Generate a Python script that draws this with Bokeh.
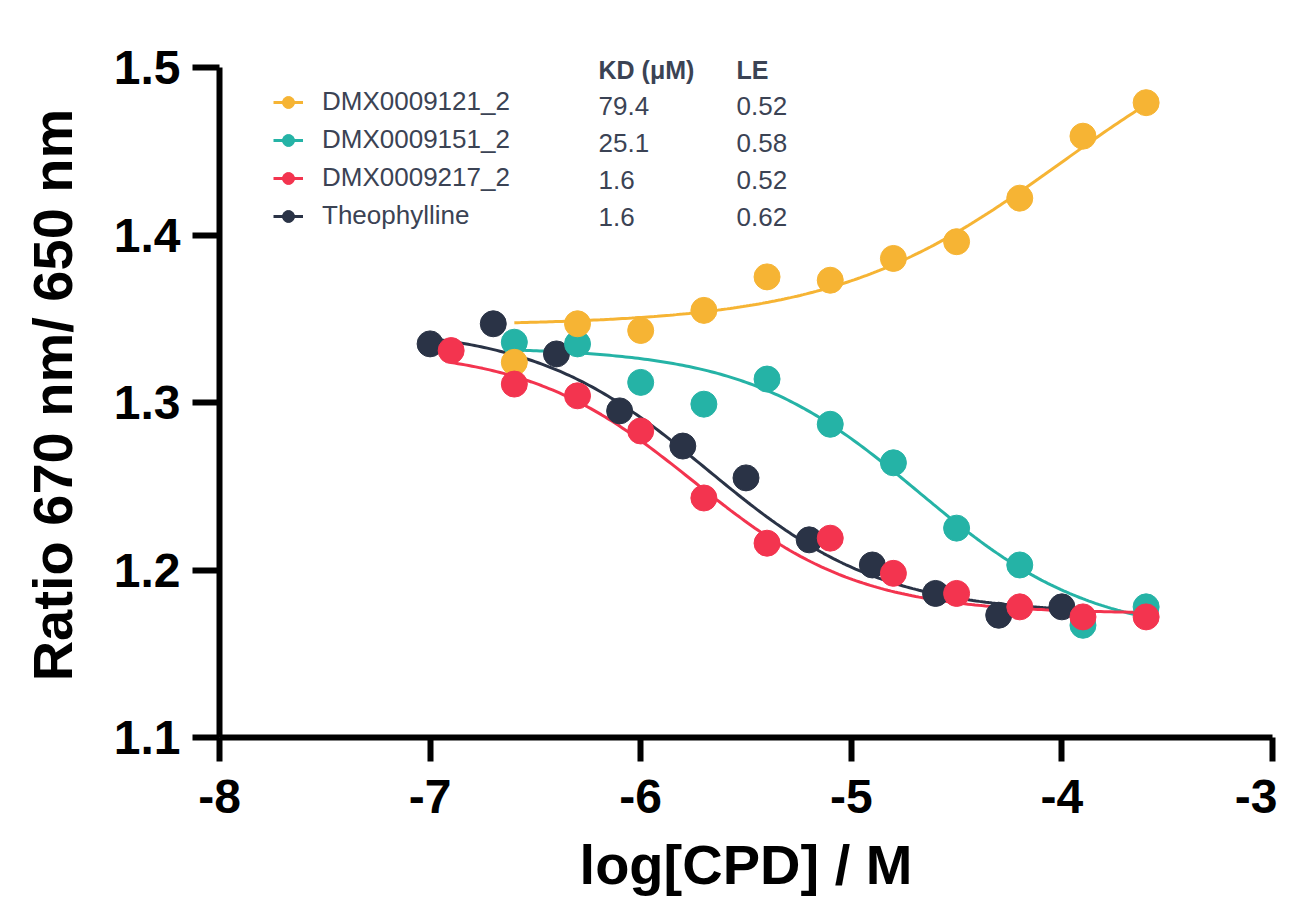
import numpy as np
from bokeh.plotting import figure
from bokeh.models import Range1d, FixedTicker, Legend, LegendItem, Label
from bokeh.embed import file_html
from bokeh.resources import INLINE

# ---------------- data ----------------
names = ["DMX0009121_2", "DMX0009151_2", "DMX0009217_2", "Theophylline"]
colors = ["#F6B434", "#25B3A6", "#F3344F", "#2A3346"]
kd_values = ["79.4", "25.1", "1.6", "1.6"]
le_values = ["0.52", "0.58", "0.52", "0.62"]
table_headers = ["KD (\u03bcM)", "LE"]

x_dmx9121 = [-6.6, -6.3, -6.0, -5.7, -5.4, -5.1, -4.8, -4.5, -4.2, -3.9, -3.6]
y_dmx9121 = [1.324, 1.347, 1.343, 1.355, 1.375, 1.373, 1.386, 1.396, 1.422, 1.459, 1.479]

x_dmx9151 = [-6.6, -6.3, -6.0, -5.7, -5.4, -5.1, -4.8, -4.5, -4.2, -3.9, -3.6]
y_dmx9151 = [1.336, 1.335, 1.312, 1.299, 1.314, 1.287, 1.264, 1.225, 1.203, 1.167, 1.178]

x_dmx9217 = [-6.9, -6.6, -6.3, -6.0, -5.7, -5.4, -5.1, -4.8, -4.5, -4.2, -3.9, -3.6]
y_dmx9217 = [1.331, 1.311, 1.304, 1.283, 1.243, 1.216, 1.219, 1.198, 1.186, 1.178, 1.172, 1.172]

x_theo = [-7.0, -6.7, -6.4, -6.1, -5.8, -5.5, -5.2, -4.9, -4.6, -4.3, -4.0]
y_theo = [1.335, 1.347, 1.329, 1.295, 1.274, 1.255, 1.218, 1.203, 1.186, 1.173, 1.178]

xs = [x_dmx9121, x_dmx9151, x_dmx9217, x_theo]
ys = [y_dmx9121, y_dmx9151, y_dmx9217, y_theo]

# fitted 4-parameter logistic curves
fit_bottom = [1.346, 1.160, 1.174, 1.174]
fit_top = [1.541, 1.333, 1.332, 1.345]
fit_logec50 = [-4.00, -4.68, -5.75, -5.68]
fit_hill = [0.80, -1.05, -1.10, -1.05]

x_ticks = [-8, -7, -6, -5, -4, -3]
y_ticks = [1.1, 1.2, 1.3, 1.4, 1.5]

# ---------------- figure ----------------
p = figure(width=1277, height=899, output_backend="svg", toolbar_location=None,
           x_range=Range1d(-8, -3), y_range=Range1d(1.1, 1.5 + 15 / 1675),
           min_border_left=219, min_border_right=5, min_border_top=52, min_border_bottom=162)
p.outline_line_color = None
p.grid.visible = False
p.background_fill_color = "white"
p.border_fill_color = "white"

curves = []
for i in range(4):
    xx = np.linspace(min(xs[i]), max(xs[i]), 200)
    yy = fit_bottom[i] + (fit_top[i] - fit_bottom[i]) / (1 + 10 ** ((fit_logec50[i] - xx) * fit_hill[i]))
    curves.append((xx, yy))

draw_order = [3, 1, 0, 2]
lines = [None] * 4
scats = [None] * 4
for i in draw_order:
    xx, yy = curves[i]
    lines[i] = p.line(xx, yy, line_color=colors[i], line_width=3)
for i in draw_order:
    scats[i] = p.scatter(xs[i], ys[i], size=26, fill_color=colors[i], line_color=colors[i], line_width=1)

# axes
for ax in (p.xaxis[0], p.yaxis[0]):
    ax.axis_line_width = 6
    ax.axis_line_color = "black"
    ax.major_tick_line_width = 6
    ax.major_tick_line_color = "black"
    ax.major_tick_in = 0
    ax.minor_tick_in = 0
    ax.minor_tick_out = 0
    ax.major_label_text_font = "Liberation Sans"
    ax.major_label_text_font_style = "bold"
    ax.major_label_text_font_size = "48px"
    ax.major_label_text_color = "black"
    ax.axis_label_text_font = "Liberation Sans"
    ax.axis_label_text_font_style = "bold"
    ax.axis_label_text_font_size = "56px"
    ax.axis_label_text_color = "black"

p.yaxis.bounds = (1.1, 1.5)
p.xaxis.ticker = FixedTicker(ticks=x_ticks)
p.yaxis.ticker = FixedTicker(ticks=y_ticks)
p.xaxis.major_label_overrides = {t: str(t) for t in x_ticks}
p.yaxis.major_label_overrides = {t: f"{t:.1f}" for t in y_ticks}
p.xaxis.major_tick_out = 24
p.yaxis.major_tick_out = 27
p.xaxis.major_label_standoff = 18
p.yaxis.major_label_standoff = 12
p.xaxis.axis_label = "log[CPD] / M"
p.yaxis.axis_label = "Ratio 670 nm/ 650 nm"
p.xaxis.axis_label_standoff = 17
p.yaxis.axis_label_standoff = 27

# legend
items = [LegendItem(label=names[i], renderers=[lines[i], scats[i]]) for i in range(4)]
legend = Legend(items=items, location=(54, 506), glyph_width=30, glyph_height=30,
                spacing=7, padding=0, margin=0, label_standoff=19, label_height=30,
                label_text_font="Liberation Sans", label_text_font_size="26px",
                label_text_color="#3B4354", border_line_color=None,
                background_fill_alpha=0)
p.add_layout(legend, "center")

# KD / LE table next to the legend
col_x = [379, 517]
header_y = 668
row_y = [632 - 37 * i for i in range(4)]
for j, h in enumerate(table_headers):
    p.add_layout(Label(x=col_x[j], y=header_y, x_units="screen", y_units="screen", text=h,
                       text_font="Liberation Sans", text_font_style="bold", text_font_size="25px",
                       text_color="#3B4354", text_baseline="middle", text_align="left"))
for i in range(4):
    for j, vals in enumerate([kd_values, le_values]):
        p.add_layout(Label(x=col_x[j], y=row_y[i], x_units="screen", y_units="screen", text=vals[i],
                           text_font="Liberation Sans", text_font_size="26px",
                           text_color="#3B4354", text_baseline="middle", text_align="left"))

open("out.html", "w").write(file_html(p, INLINE))
